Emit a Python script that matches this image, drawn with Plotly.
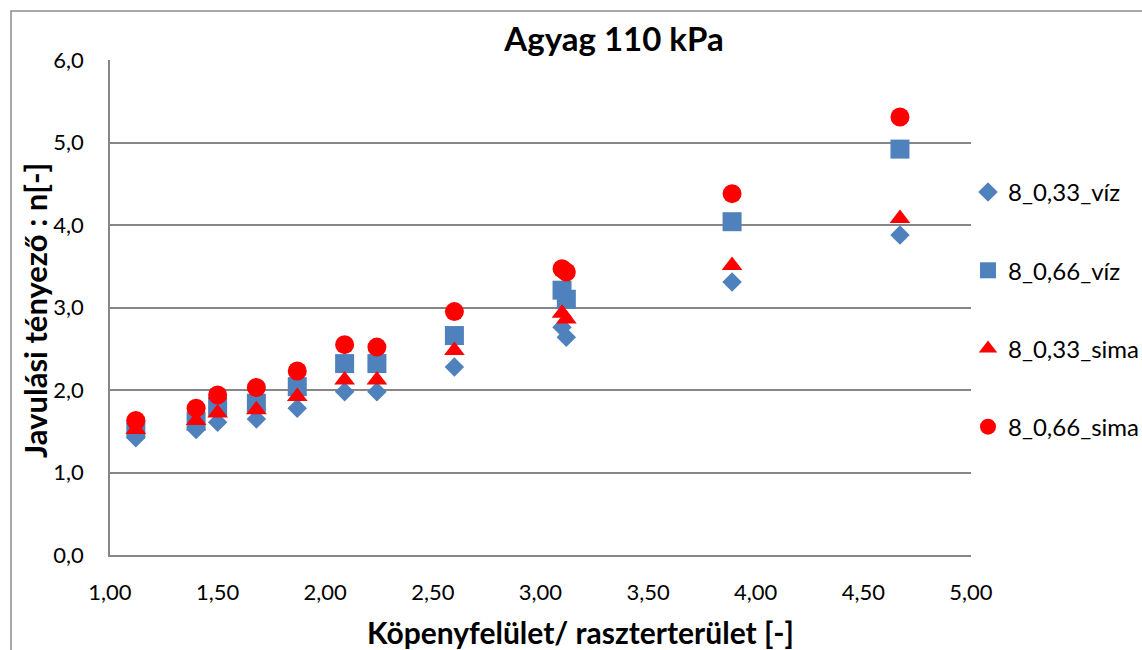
import plotly.graph_objects as go

# ---- data ----
x_vals = [1.12, 1.40, 1.50, 1.68, 1.87, 2.09, 2.24, 2.60, 3.10, 3.12, 3.89, 4.67]
s1_name = "8_0,33_víz"
s1_vals = [1.42, 1.52, 1.61, 1.65, 1.78, 1.98, 1.98, 2.28, 2.76, 2.64, 3.31, 3.88]
s2_name = "8_0,66_víz"
s2_vals = [1.53, 1.62, 1.80, 1.84, 2.04, 2.32, 2.32, 2.66, 3.21, 3.10, 4.04, 4.92]
s3_name = "8_0,33_sima"
s3_vals = [1.52, 1.63, 1.72, 1.76, 1.92, 2.12, 2.12, 2.48, 2.93, 2.86, 3.51, 4.08]
s4_name = "8_0,66_sima"
s4_vals = [1.63, 1.78, 1.94, 2.03, 2.23, 2.55, 2.52, 2.95, 3.47, 3.43, 4.38, 5.31]

title_text = "Agyag 110 kPa"
x_title = "Köpenyfelület/ raszterterület [-]"
y_title = "Javulási tényező : n[-]"

BLUE = "#4F81BD"
RED = "#FF0000"
GRID = "#878787"
FONT = "Lato, Carlito, 'Open Sans', sans-serif"

fig = go.Figure()
series = [
    (s1_name, s1_vals, "diamond", BLUE, 15),
    (s2_name, s2_vals, "square", BLUE, 19),
    (s3_name, s3_vals, "triangle-up", RED, 18),
    (s4_name, s4_vals, "circle", RED, 19),
]
for i, (name, vals, sym, col, size) in enumerate(series):
    fig.add_trace(go.Scatter(
        x=x_vals, y=vals, mode="markers", name=name,
        legendgroup=f"g{i}",
        marker=dict(symbol=sym, color=col, size=size, line=dict(width=0)),
    ))

L, R, T, B = 110, 171, 60, 95
W, H = 1142, 650
pw, ph = W - L - R, H - T - B

def px(xp):
    return (xp - L) / pw

def py(yp):
    return (H - B - yp) / ph

fig.update_layout(
    width=W, height=H,
    margin=dict(l=L, r=R, t=T, b=B, pad=0, autoexpand=False),
    paper_bgcolor="white", plot_bgcolor="white",
    separators=", ",
    font=dict(family=FONT, size=22, color="#000000"),
    title=dict(text=f"<b>{title_text}</b>", x=px(614), xanchor="center",
               y=1 - 39 / H, yanchor="middle", xref="paper",
               font=dict(size=33, family=FONT, color="#000000")),
    showlegend=True,
    legend=dict(x=px(968), xanchor="left", y=py(170), yanchor="top",
                tracegroupgap=44, bgcolor="rgba(0,0,0,0)",
                font=dict(size=24, family=FONT, color="#000000"),
                itemsizing="trace"),
    xaxis=dict(range=[1.0, 5.0], dtick=0.5, tick0=1.0, tickformat=".2f",
               showgrid=False, zeroline=False,
               showline=True, linecolor=GRID, linewidth=1.5,
               ticks="outside", ticklen=17, tickcolor="rgba(0,0,0,0)",
               tickfont=dict(size=22, family=FONT)),
    yaxis=dict(range=[0, 6.0], dtick=1.0, tickformat=".1f",
               showgrid=True, gridcolor=GRID, gridwidth=1.5,
               zeroline=False,
               showline=True, linecolor=GRID, linewidth=1.5,
               ticks="outside", ticklen=20, tickcolor="rgba(0,0,0,0)",
               tickfont=dict(size=22, family=FONT)),
    annotations=[
        dict(text=f"<b>{x_title}</b>", xref="paper", yref="paper",
             x=px(580), y=py(632), xanchor="center", yanchor="middle",
             showarrow=False, font=dict(size=30, family=FONT)),
        dict(text=f"<b>{y_title}</b>", xref="paper", yref="paper",
             x=px(35), y=py(311), xanchor="center", yanchor="middle",
             textangle=-90, showarrow=False, font=dict(size=31, family=FONT)),
    ],
    shapes=[
        dict(type="rect", xref="paper", yref="paper",
             x0=px(11), x1=px(1160), y0=py(11), y1=py(680),
             line=dict(color="#8C8C8C", width=1.5), fillcolor="rgba(0,0,0,0)",
             layer="below"),
    ],
)

fig.write_html("out.html")
